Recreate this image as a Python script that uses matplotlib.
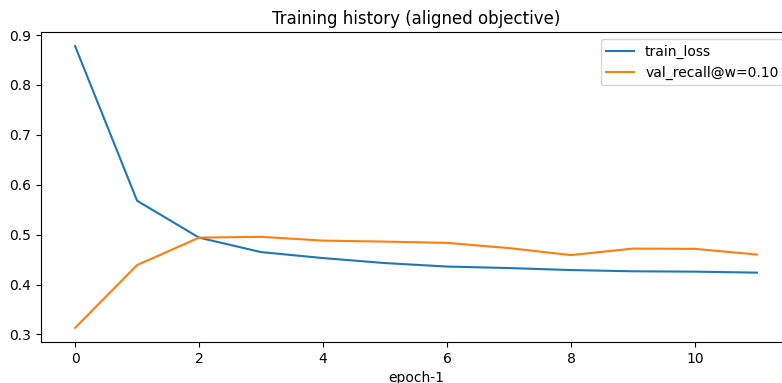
import matplotlib
matplotlib.use("Agg")
import matplotlib.pyplot as plt

epochs = list(range(12))
train_loss = [0.878, 0.568, 0.494, 0.465, 0.453, 0.443, 0.436, 0.433, 0.429, 0.4265, 0.4258, 0.4238]
val_recall = [0.313, 0.439, 0.494, 0.4956, 0.488, 0.486, 0.4835, 0.473, 0.459, 0.472, 0.4715, 0.460]

W, H = 782, 383
fig = plt.figure(figsize=(W / 100, H / 100), dpi=100)
ax = fig.add_axes([41 / W, 41 / H, 750 / W, 310 / H])

ax.plot(epochs, train_loss, label="train_loss")
ax.plot(epochs, val_recall, label="val_recall@w=0.10")
ax.set_title("Training history (aligned objective)")
ax.set_xlabel("epoch-1")
ax.legend(loc="upper right")

fig.savefig("out.png", dpi=100)
